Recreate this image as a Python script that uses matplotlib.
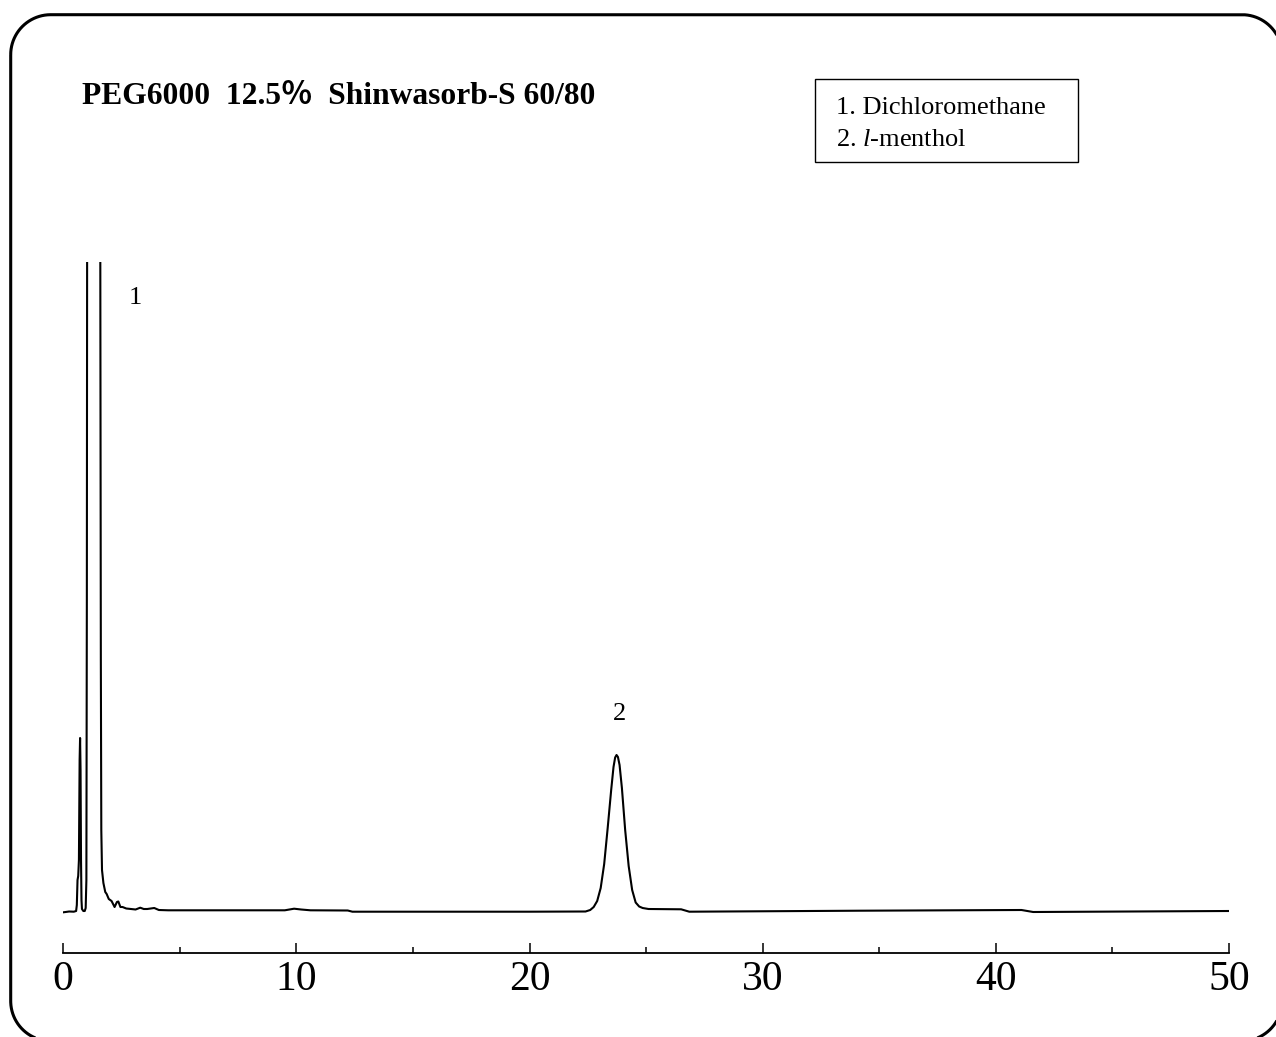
import numpy as np
import matplotlib
matplotlib.use('Agg')
import matplotlib.pyplot as plt
from matplotlib.patches import Rectangle
from matplotlib.ticker import MultipleLocator

# retention time (min) and detector signal (arbitrary units, baseline ~0)
time_min = [0.0, 0.1, 0.25, 0.45, 0.55, 0.58, 0.61, 0.64, 0.67, 0.70, 0.72, 0.74, 0.76, 0.78,
            0.80, 0.86, 0.92, 0.96, 0.99, 1.01, 1.03, 1.10, 1.30, 1.50, 1.57, 1.59, 1.61, 1.63,
            1.66, 1.72, 1.80, 1.86, 1.95, 2.07, 2.20, 2.30, 2.36, 2.45, 2.54, 2.70, 2.90, 3.10,
            3.30, 3.45, 3.60, 3.75, 3.90, 4.10, 4.50, 6.0, 8.0, 9.5, 9.9, 10.2, 10.6, 12.2, 12.4,
            15.0, 20.0, 22.4, 22.6, 22.75, 22.9, 23.05, 23.2, 23.35, 23.5, 23.6, 23.67, 23.73,
            23.79, 23.86, 23.96, 24.1, 24.25, 24.4, 24.55, 24.7, 24.85, 25.1, 26.5, 26.85, 34.2,
            41.1, 41.6, 50.0]
signal = [-0.23, -0.2, -0.15, -0.17, -0.1, 0.5, 3.0, 3.4, 5.0, 15.0, 17.2, 14.0, 5.0, 1.0,
          0.1, -0.1, -0.1, 0.2, 3.0, 31.0, 90.0, 200.0, 260.0, 200.0, 100.0, 60.0, 25.0, 8.0,
          4.0, 2.7, 1.8, 1.6, 1.1, 0.9, 0.3, 0.8, 0.85, 0.3, 0.3, 0.15, 0.1, 0.05,
          0.23, 0.1, 0.1, 0.15, 0.2, 0.0, -0.03, -0.03, -0.03, -0.03, 0.13, 0.05, -0.03, -0.05, -0.17,
          -0.17, -0.17, -0.15, 0.0, 0.3, 0.9, 2.2, 4.6, 8.2, 12.0, 14.3, 15.25, 15.5,
          15.3, 14.5, 12.2, 8.0, 4.4, 2.0, 0.75, 0.35, 0.2, 0.1, 0.07, -0.17, -0.07,
          0.0, -0.2, -0.1]

peak_labels = ['1', '2']
peak_label_x = [3.08, 23.84]
peak_label_y = [61.2, 19.6]

title = 'PEG6000  12.5\uff05  Shinwasorb-S 60/80'
legend_lines = ['1. Dichloromethane', '2. $\\it{l}$-menthol']

serif = ['Liberation Serif', 'DejaVu Serif']
plt.rcParams['font.family'] = serif
plt.rcParams['mathtext.fontset'] = 'custom'
plt.rcParams['mathtext.rm'] = 'Liberation Serif'
plt.rcParams['mathtext.it'] = 'Liberation Serif:italic'

W, H = 1276, 1037
fig = plt.figure(figsize=(W / 100, H / 100), dpi=100)

# full-figure overlay in pixel coords (y down) for the rounded outer frame
bg = fig.add_axes([0, 0, 1, 1])
bg.set_xlim(0, W)
bg.set_ylim(H, 0)
bg.axis('off')

# frame runs off the right and bottom edges; corners built as polyline arcs
fl, ft, fr, fb, rad = 10.7, 14.7, 1282, 1041, 40
a = np.linspace(0, np.pi / 2, 200)
fx = np.concatenate([fl + rad - rad * np.cos(a), fr - rad + rad * np.sin(a),
                     fr - rad + rad * np.cos(a), fl + rad - rad * np.sin(a), [fl]])
fy = np.concatenate([ft + rad - rad * np.sin(a), ft + rad - rad * np.cos(a),
                     fb - rad + rad * np.sin(a), fb - rad + rad * np.cos(a), [ft + rad]])
# drop the off-canvas parts so nothing gets pinned to the image border
off = (fx > W + 1) | (fy > H + 1)
fx[off] = np.nan
fy[off] = np.nan
bg.plot(fx, fy, color='black', lw=2.2, solid_capstyle='butt')

# axes box in pixel terms of the reference
x0_px, x1_px = 63.3, 1229
top_px, bot_px = 262, 953
ax = fig.add_axes([x0_px / W, 1 - bot_px / H, (x1_px - x0_px) / W, (bot_px - top_px) / H])

ax.plot(time_min, signal, color='black', lw=1.5)
ax.set_xlim(0, 50)
ax.set_ylim(-4.3, 64.8)

for s in ['top', 'left', 'right']:
    ax.spines[s].set_visible(False)
ax.spines['bottom'].set_linewidth(1.3)
ax.set_yticks([])
ax.xaxis.set_major_locator(MultipleLocator(10))
ax.xaxis.set_minor_locator(MultipleLocator(5))
ax.tick_params(axis='x', which='major', direction='in', length=7.5, width=1.1,
               labelsize=30, pad=5.5)
ax.tick_params(axis='x', which='minor', direction='in', length=4, width=1.1)
ax.patch.set_visible(False)

for lab, lx, ly in zip(peak_labels, peak_label_x, peak_label_y):
    ax.text(lx, ly, lab, ha='center', va='center', fontsize=19)

# title (full-width percent sign falls back to the CJK font)
fig.text(82 / W, 1 - 104 / H, title, fontsize=22.7, fontweight='bold',
         family=['Liberation Serif', 'Noto Sans CJK JP'], ha='left', va='baseline')

# compound legend box
fig.add_artist(Rectangle((815 / W, 1 - 162 / H), (1078 - 815) / W, (162 - 79) / H,
                         transform=fig.transFigure, fill=False, lw=1.0, ec='black'))
fig.text(836 / W, 1 - 114 / H, legend_lines[0], fontsize=19, va='baseline')
fig.text(836 / W, 1 - 146 / H, legend_lines[1], fontsize=19, va='baseline')

fig.savefig('out.png', dpi=100)
